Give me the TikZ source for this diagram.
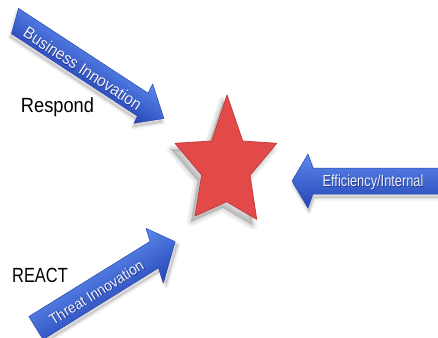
\documentclass[tikz,border=0pt]{standalone}
\usepackage{fontspec}
\setmainfont{Liberation Sans}
\definecolor{arrowtop}{HTML}{5C88EC}
\definecolor{arrowmid}{HTML}{3D66D6}
\definecolor{arrowbot}{HTML}{2545B5}
\definecolor{arrowedge}{HTML}{2A47B0}
\definecolor{starred}{HTML}{E24A4A}
\definecolor{staredge}{HTML}{C63C3C}
\definecolor{labelfg}{HTML}{F0F2F8}
\definecolor{labelshade}{HTML}{22358C}
% text with a small dark drop shadow behind it
\newcommand{\shadowtext}[1]{\rlap{\kern0.8pt\raisebox{-0.9pt}{\color{labelshade}#1}}#1}
\begin{document}
\begin{tikzpicture}[x=1pt,y=-1pt,
  blockarrow/.style={top color=arrowtop, middle color=arrowmid, bottom color=arrowbot,
    draw=arrowedge, line width=0.5pt, line join=round},
  softshadow/.style={fill=black, draw=black, opacity=0.045, line width=#1, line join=round},
  arrowlabel/.style={text=labelfg, inner sep=0pt, anchor=base},
  sidelabel/.style={font=\fontsize{20.5}{20.5}\selectfont, inner sep=0pt, anchor=base},
  bizoutline/.style={insert path={(-4,-12.5) -- (151.1,-12.5) -- (149.7,-22.7) -- (178,0)
    -- (155.6,20.4) -- (154.5,12.5) -- (4,12.5) -- cycle}},
  effoutline/.style={insert path={(292,181) -- (308,154) -- (313,168) -- (442,168)
    -- (442,194) -- (313,194) -- (308,208) -- cycle}},
  threatoutline/.style={insert path={(0,-13.5) -- (142.6,-13.5) -- (146,-26.7) -- (163.7,0)
    -- (131.8,29) -- (135.7,13.5) -- (0,13.5) -- cycle}},
  staroutline/.style={insert path={(227,95) -- (242.7,141) -- (276.7,143.3) -- (250,175)
    -- (256.7,219.3) -- (226.7,201.7) -- (195,216) -- (201.7,175) -- (175,143.3)
    -- (211.7,141) -- cycle}}]
\useasboundingbox (0,0) rectangle (438,337);
\fill[white] (0,0) rectangle (438,337);

% star with a soft drop shadow
\begin{scope}[shift={(-4,6)}]
  \foreach \w in {9pt,6pt,3pt,0.1pt}
    \path[softshadow=\w, staroutline];
\end{scope}
\path[fill=starred, draw=staredge, line width=0.8pt, line join=round, staroutline];

% "Business Innovation" arrow
\begin{scope}[transform canvas={shift={(15,21)},rotate=-33.2}]
  \begin{scope}[shift={(1,4)}]
    \foreach \w in {5pt,2.5pt,0.1pt}
      \path[softshadow=\w, bizoutline];
  \end{scope}
  \path[blockarrow, bizoutline];
  \node[arrowlabel, font=\fontsize{16.5}{16.5}\selectfont, xscale=0.93] (bizlabel)
    at (82.6,8.5) {\shadowtext{Business Innovation}};
\end{scope}

% "Efficiency/Internal" arrow
\begin{scope}[shift={(1,4)}]
  \foreach \w in {5pt,2.5pt,0.1pt}
    \path[softshadow=\w, effoutline];
\end{scope}
\path[blockarrow, effoutline];
\node[arrowlabel, font=\fontsize{16}{16}\selectfont, xscale=0.8] (efflabel)
  at (373,186.5) {\shadowtext{Efficiency/Internal}};

% "Threat Innovation" arrow
\begin{scope}[transform canvas={shift={(36,328)},rotate=31.8}]
  \begin{scope}[shift={(1,4)}]
    \foreach \w in {5pt,2.5pt,0.1pt}
      \path[softshadow=\w, threatoutline];
  \end{scope}
  \path[blockarrow, threatoutline];
  \node[arrowlabel, font=\fontsize{15}{15}\selectfont, xscale=0.925] (threatlabel)
    at (70,7) {\shadowtext{Threat Innovation}};
\end{scope}

% side captions
\node[sidelabel, xscale=0.89] (respond) at (57.5,112) {Respond};
\node[sidelabel, xscale=0.8] (react) at (40,282) {REACT};
\end{tikzpicture}
\end{document}
